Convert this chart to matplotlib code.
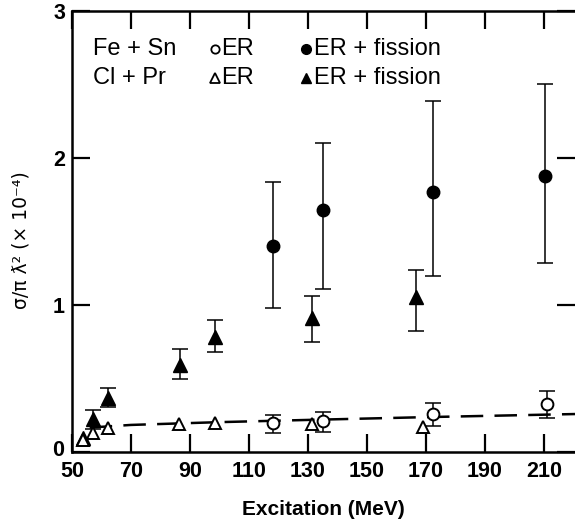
import numpy as np
import matplotlib
matplotlib.use('Agg')
import matplotlib.pyplot as plt
import matplotlib.transforms as mtransforms

plt.rcParams['font.family'] = ['Liberation Sans', 'DejaVu Sans']

# Fe + Sn, evaporation residues (open circles)
fe_er_x = [118.0, 135.0, 172.2, 211.0]
fe_er_y = [0.20, 0.21, 0.26, 0.33]
fe_er_lo = [0.134, 0.14, 0.18, 0.232]
fe_er_hi = [0.254, 0.277, 0.334, 0.418]

# Fe + Sn, ER + fission (filled circles)
fe_fis_x = [118.0, 135.0, 172.2, 210.5]
fe_fis_y = [1.40, 1.645, 1.77, 1.875]
fe_fis_lo = [0.98, 1.107, 1.20, 1.284]
fe_fis_hi = [1.835, 2.105, 2.39, 2.505]

# Cl + Pr, ER (open triangles)
cl_er_x = [53.7, 57.0, 62.3, 86.2, 98.6, 131.2, 169.1]
cl_er_y = [0.085, 0.13, 0.168, 0.193, 0.20, 0.193, 0.175]

# Cl + Pr, ER + fission (filled triangles)
cl_fis_x = [53.8, 57.1, 62.1, 86.5, 98.6, 131.4, 166.6]
cl_fis_y = [0.10, 0.225, 0.368, 0.595, 0.785, 0.914, 1.057]
cl_fis_lo = [0.10, 0.16, 0.31, 0.50, 0.68, 0.748, 0.827]
cl_fis_hi = [0.10, 0.29, 0.44, 0.70, 0.90, 1.06, 1.24]

# dashed guide curve through the ER points
fit_x = [56.0, 70.0, 100.0, 130.0, 170.0, 220.5]
fit_y = [0.168, 0.186, 0.205, 0.22, 0.239, 0.26]

xticks = [50, 70, 90, 110, 130, 150, 170, 190, 210]
yticks = [0, 1, 2, 3]

fig = plt.figure(figsize=(5.75, 5.23), dpi=100)
ax = fig.add_axes([0.1252, 0.1352, 0.8748, 0.8438])

ax.plot(fit_x, fit_y, color='black', lw=1.8, dashes=(9, 4.5), zorder=1)

def errs(y, lo, hi):
    y = np.array(y)
    return [y - np.array(lo), np.array(hi) - y]

eb = dict(fmt='none', ecolor='black', elinewidth=1.1, capsize=5.5, capthick=1.1, zorder=2)
ax.errorbar(fe_fis_x, fe_fis_y, yerr=errs(fe_fis_y, fe_fis_lo, fe_fis_hi), **eb)
ax.errorbar(fe_er_x, fe_er_y, yerr=errs(fe_er_y, fe_er_lo, fe_er_hi), **eb)
ax.errorbar(cl_fis_x[1:], cl_fis_y[1:],
            yerr=errs(cl_fis_y[1:], cl_fis_lo[1:], cl_fis_hi[1:]), **eb)

ax.plot(fe_fis_x, fe_fis_y, 'o', ms=9, color='black', ls='none', zorder=3)
ax.plot(fe_er_x, fe_er_y, 'o', ms=8.5, mfc='white', mec='black', mew=1.4, ls='none', zorder=3)
ax.plot(cl_fis_x, cl_fis_y, '^', ms=10, color='black', ls='none', zorder=3)
ax.plot(cl_er_x, cl_er_y, '^', ms=9, mfc='white', mec='black', mew=1.4, ls='none', zorder=4)

ax.set_xlim(50.5, 220.5)
ax.set_ylim(0, 3)
ax.set_xticks(xticks)
ax.set_yticks(yticks)
ax.set_xticklabels([str(v) for v in xticks], fontsize=15.5, fontweight='bold')
ax.set_yticklabels([str(v) for v in yticks], fontsize=15.5, fontweight='bold')
ax.tick_params(direction='in', length=13, width=1.6, top=True, right=True, pad=5)
ax.tick_params(axis='x', pad=6)
for s in ['left', 'bottom', 'top']:
    ax.spines[s].set_linewidth(1.8)
ax.spines['right'].set_visible(False)

# nudge the "0" label up a little so it clears the "50"
zero = ax.get_yticklabels()[0]
zero.set_transform(zero.get_transform() +
                   mtransforms.ScaledTranslation(-1 / 72, 3 / 72, fig.dpi_scale_trans))

ax.set_xlabel('Excitation (MeV)', fontsize=15, fontweight='bold', labelpad=13)
ax.set_ylabel('σ/π ƛ² (× 10⁻⁴)', fontsize=13.5, family=['DejaVu Sans'])
ax.yaxis.set_label_coords(-0.083, 0.48)

# key in the upper left
tr = ax.transAxes
kw = dict(transform=tr, fontsize=17, va='center', ha='left')
ax.text(0.042, 0.914, 'Fe + Sn', **kw)
ax.text(0.042, 0.848, 'Cl + Pr', **kw)
ax.text(0.297, 0.914, 'ER', **kw)
ax.text(0.297, 0.848, 'ER', **kw)
ax.text(0.482, 0.914, 'ER + fission', **kw)
ax.text(0.482, 0.848, 'ER + fission', **kw)
ax.plot([0.284], [0.914], 'o', ms=6, mfc='white', mec='black', mew=1.3, transform=tr, clip_on=False)
ax.plot([0.284], [0.848], '^', ms=6.5, mfc='white', mec='black', mew=1.3, transform=tr, clip_on=False)
ax.plot([0.465], [0.914], 'o', ms=7, color='black', transform=tr, clip_on=False)
ax.plot([0.465], [0.848], '^', ms=7.5, color='black', transform=tr, clip_on=False)

fig.savefig('out.png', dpi=100)
